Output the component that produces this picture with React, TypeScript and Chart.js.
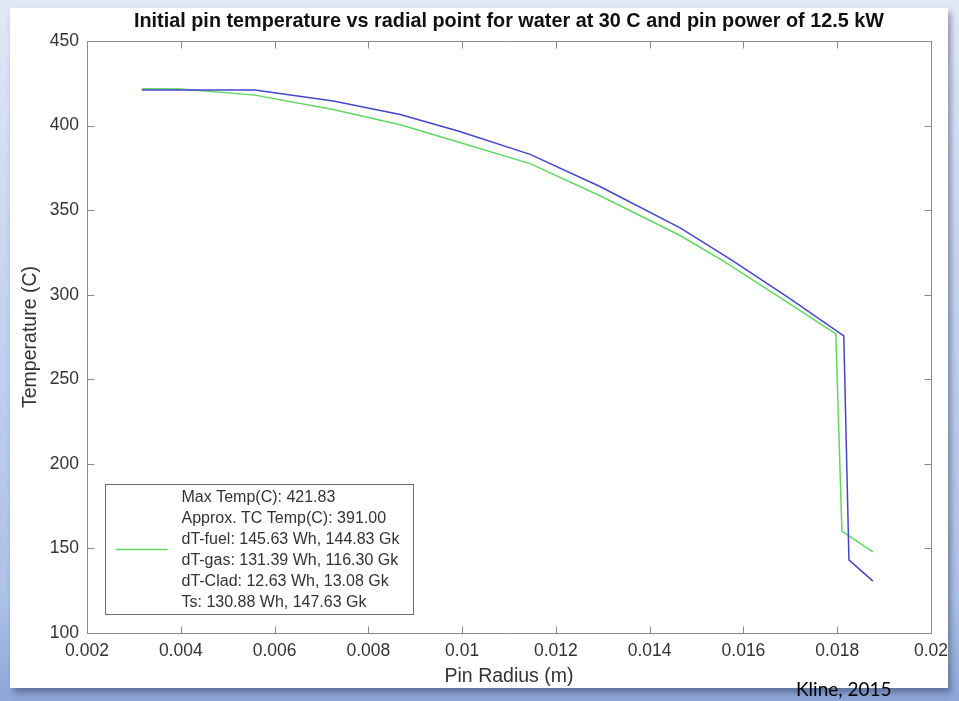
import React, { useEffect, useRef } from "react";
import { Chart, registerables } from "chart.js";

Chart.register(...registerables);

const titleText =
  "Initial pin temperature vs radial point for water at 30 C and pin power of 12.5 kW";
const xAxisTitle = "Pin Radius (m)";
const yAxisTitle = "Temperature (C)";
const creditText = "Kline, 2015";

const xTickValues = [0.002, 0.004, 0.006, 0.008, 0.01, 0.012, 0.014, 0.016, 0.018, 0.02];
const xTickLabels = ["0.002", "0.004", "0.006", "0.008", "0.01", "0.012", "0.014", "0.016", "0.018", "0.02"];
const yTickValues = [100, 150, 200, 250, 300, 350, 400, 450];
const yTickLabels = ["100", "150", "200", "250", "300", "350", "400", "450"];

// Blue series (no legend entry)
const blueRadius = [0.00317, 0.00558, 0.00725, 0.00868, 0.00995, 0.01145, 0.01294, 0.01465, 0.01575, 0.017, 0.01814, 0.01825, 0.01876];
const blueTemp = [421.0, 421.0, 414.5, 406.5, 396.5, 383.0, 364.0, 339.5, 320.5, 297.5, 275.6, 143.2, 130.7];

// Green series (legend entry)
const greenRadius = [0.00317, 0.004, 0.00558, 0.00725, 0.00868, 0.00995, 0.01145, 0.01294, 0.01465, 0.01554, 0.0168, 0.01797, 0.0181, 0.01876];
const greenTemp = [421.8, 421.6, 418.0, 409.5, 400.5, 390.0, 377.5, 358.5, 335.0, 320.5, 298.0, 276.8, 160.3, 147.9];

const legendLines = [
  "Max Temp(C): 421.83",
  "Approx. TC Temp(C): 391.00",
  "dT-fuel: 145.63 Wh, 144.83 Gk",
  "dT-gas: 131.39 Wh, 116.30 Gk",
  "dT-Clad: 12.63 Wh, 13.08 Gk",
  "Ts: 130.88 Wh, 147.63 Gk",
];

const BLUE = "#4545cb";
const GREEN = "#5fd860";
const AXIS = "#8a8a8a";
const TEXT = "#333333";
const FONT = "'Liberation Sans', Arial, sans-serif";

const framePlugin = {
  id: "matlabFrame",
  afterDatasetsDraw(chart: any) {
    const { ctx, chartArea: a, scales } = chart;
    const xs = scales.x;
    const ys = scales.y;
    ctx.save();
    ctx.strokeStyle = AXIS;
    ctx.lineWidth = 1;
    const L = Math.round(a.left) + 0.5;
    const R = Math.round(a.right) + 0.5;
    const T = Math.round(a.top) + 0.5;
    const B = Math.round(a.bottom) + 0.5;
    ctx.beginPath();
    ctx.rect(L, T, R - L, B - T);
    const tl = 7;
    xTickValues.forEach((v) => {
      const px = Math.round(xs.getPixelForValue(v)) + 0.5;
      ctx.moveTo(px, B);
      ctx.lineTo(px, B - tl);
      ctx.moveTo(px, T);
      ctx.lineTo(px, T + tl);
    });
    yTickValues.forEach((v) => {
      const py = Math.round(ys.getPixelForValue(v)) + 0.5;
      ctx.moveTo(L, py);
      ctx.lineTo(L + tl, py);
      ctx.moveTo(R, py);
      ctx.lineTo(R - tl, py);
    });
    ctx.stroke();
    ctx.restore();
  },
  afterDraw(chart: any) {
    const { ctx, chartArea: a } = chart;
    ctx.save();
    // Title (condensed bold)
    ctx.font = `bold 21px ${FONT}`;
    ctx.fillStyle = "#111111";
    ctx.textBaseline = "alphabetic";
    ctx.textAlign = "left";
    const w = ctx.measureText(titleText).width;
    const targetW = 750;
    const cx = (a.left + a.right) / 2;
    ctx.translate(cx - targetW / 2, 27);
    ctx.scale(targetW / w, 1);
    ctx.fillText(titleText, 0, 0);
    ctx.restore();

    // Legend box
    ctx.save();
    const bl = Math.round(a.left + 18) + 0.5;
    const bb = Math.round(a.bottom - 19) + 0.5;
    const bw = 308;
    const bh = 130;
    const bt = bb - bh;
    ctx.fillStyle = "#ffffff";
    ctx.fillRect(bl, bt, bw, bh);
    ctx.strokeStyle = "#6e6e6e";
    ctx.lineWidth = 1;
    ctx.strokeRect(bl, bt, bw, bh);
    ctx.strokeStyle = GREEN;
    ctx.lineWidth = 1.5;
    ctx.beginPath();
    ctx.moveTo(bl + 10, bt + bh / 2);
    ctx.lineTo(bl + 62, bt + bh / 2);
    ctx.stroke();
    ctx.font = `16px ${FONT}`;
    ctx.fillStyle = TEXT;
    ctx.textBaseline = "middle";
    ctx.textAlign = "left";
    legendLines.forEach((line, i) => {
      ctx.fillText(line, bl + 76, bt + 13 + i * 21);
    });
    ctx.restore();
  },
};

export default function App() {
  const canvasRef = useRef<HTMLCanvasElement | null>(null);

  useEffect(() => {
    const canvas = canvasRef.current;
    if (!canvas) return;
    const chart = new Chart(canvas, {
      type: "line",
      data: {
        datasets: [
          {
            label: "blue",
            data: blueRadius.map((r, i) => ({ x: r, y: blueTemp[i] })),
            borderColor: BLUE,
            borderWidth: 1.5,
            pointRadius: 0,
            tension: 0,
            fill: false,
          },
          {
            label: "green",
            data: greenRadius.map((r, i) => ({ x: r, y: greenTemp[i] })),
            borderColor: GREEN,
            borderWidth: 1.5,
            pointRadius: 0,
            tension: 0,
            fill: false,
          },
        ],
      },
      options: {
        animation: false,
        responsive: false,
        devicePixelRatio: 1,
        layout: { padding: { top: 41, right: 28, bottom: 0, left: 0 } },
        plugins: {
          legend: { display: false },
          title: { display: false },
          tooltip: { enabled: false },
        },
        scales: {
          x: {
            type: "linear",
            min: 0.002,
            max: 0.02,
            grid: { display: false, drawTicks: false },
            border: { display: false },
            afterBuildTicks: (scale: any) => {
              scale.ticks = xTickValues.map((v) => ({ value: v }));
            },
            afterFit: (scale: any) => {
              scale.height = 68;
            },
            ticks: {
              padding: 8,
              maxRotation: 0,
              autoSkip: false,
              color: TEXT,
              font: { family: FONT, size: 17.5 },
              callback: (_v: any, i: number) => xTickLabels[i],
            },
            title: {
              display: true,
              text: xAxisTitle,
              color: TEXT,
              font: { family: FONT, size: 19.5 },
              padding: { top: 0, bottom: 13 },
            },
          },
          y: {
            type: "linear",
            min: 100,
            max: 450,
            grid: { display: false, drawTicks: false },
            border: { display: false },
            afterBuildTicks: (scale: any) => {
              scale.ticks = yTickValues.map((v) => ({ value: v }));
            },
            afterFit: (scale: any) => {
              scale.width = 87;
            },
            ticks: {
              padding: 8,
              autoSkip: false,
              color: TEXT,
              font: { family: FONT, size: 17.5 },
              callback: (_v: any, i: number) => yTickLabels[i],
            },
            title: {
              display: true,
              text: yAxisTitle,
              color: TEXT,
              font: { family: FONT, size: 19.5 },
              padding: { top: 19, bottom: 0 },
            },
          },
        },
      },
      plugins: [framePlugin],
    });
    return () => chart.destroy();
  }, []);

  return (
    <div
      style={{
        position: "fixed",
        left: 0,
        top: 0,
        width: 959,
        height: 701,
        overflow: "hidden",
        background:
          "linear-gradient(to bottom, #e1e8f6 0%, #c6d4ee 40%, #aec1e7 85%, #8ea7d8 100%)",
      }}
    >
      <div
        style={{
          position: "absolute",
          left: 10,
          top: 8,
          width: 938,
          height: 680,
          background: "#ffffff",
          boxShadow: "3px 5px 6px rgba(40,50,90,0.45)",
        }}
      />
      <canvas
        ref={canvasRef}
        width={959}
        height={701}
        style={{ position: "absolute", left: 0, top: 0, width: 959, height: 701 }}
      />
      <div
        style={{
          position: "absolute",
          left: 796,
          top: 677,
          fontFamily: "Lato, 'Open Sans', sans-serif",
          fontSize: 19,
          lineHeight: "24px",
          color: "#000000",
          whiteSpace: "nowrap",
        }}
      >
        {creditText}
      </div>
    </div>
  );
}
